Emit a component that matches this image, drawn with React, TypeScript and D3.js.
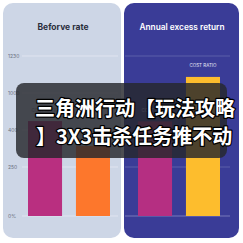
import React from "react";
import * as d3 from "d3";

const tickValues = [0, 250, 400, 1000, 1230];
const tickLabels = ["0%", "250", "400", "1000", "1230"];
const leftCategories = ["Before", "After"];
const leftValues = [545, 335];
const rightCategories = ["Fund", "Cost"];
const rightValues = [540, 1100];
const leftTitle = "Beforve rate";
const rightTitle = "Annual excess return";
const barLabel = "COST RATIO";
const overlayLines = ["三角洲行动【玩法攻略", "】3X3击杀任务推不动"];

export default function App() {
  const y = d3.scaleLinear().domain(tickValues).range([216, 167, 130, 93, 56]);
  const xl = d3.scaleBand().domain(leftCategories).range([28, 110]).paddingInner(0.29).paddingOuter(0);
  const xr = d3.scaleBand().domain(rightCategories).range([138, 220]).paddingInner(0.29).paddingOuter(0);
  const leftColors = ["#b92f80", "#fd772c"];
  const rightColors = ["#b52f82", "#fdbd2d"];
  return (
    <svg width={243} height={243} style={{ position: "absolute", left: 0, top: 0 }} fontFamily="Inter, 'Noto Sans', sans-serif">
      <rect x={0} y={0} width={243} height={243} fill="#ffffff" />
      <rect x={3} y={3} width={118} height={235} rx={10} fill="#cdd6e6" />
      <rect x={124} y={3} width={115} height={235} rx={10} fill="#3a3c97" />
      <text x={63} y={30} textAnchor="middle" fontSize={8.5} fontWeight={700} fill="#2a2e3c">{leftTitle}</text>
      <text x={182} y={30} textAnchor="middle" fontSize={8.3} fontWeight={600} fill="#ffffff">{rightTitle}</text>
      {tickValues.map((v, i) => (
        <g key={"lt" + i}>
          <line x1={22} x2={118} y1={y(v)} y2={y(v)} stroke="#e4e9f2" strokeWidth={0.8} />
          <text x={8} y={y(v) + 1.8} fontSize={5} fill="#6a7080">{tickLabels[i]}</text>
        </g>
      ))}
      {[1230, 250, 0].map((v, i) => (
        <line key={"rg" + i} x1={125} x2={230} y1={y(v)} y2={y(v)} stroke="#8f93c8" strokeOpacity={v === 0 ? 0.9 : 0.5} strokeWidth={0.8} />
      ))}
      {leftCategories.map((c, i) => (
        <rect key={"lb" + i} x={xl(c)} y={y(leftValues[i])} width={xl.bandwidth()} height={y(0) - y(leftValues[i])} fill={leftColors[i]} />
      ))}
      {rightCategories.map((c, i) => (
        <rect key={"rb" + i} x={xr(c)} y={y(rightValues[i])} width={xr.bandwidth()} height={y(0) - y(rightValues[i])} fill={rightColors[i]} />
      ))}
      <text x={(xl(leftCategories[0]) as number) + xl.bandwidth() / 2} y={y(leftValues[0]) - 9} textAnchor="middle" fontSize={4.5} fill="#7a8090">{barLabel}</text>
      <text x={(xr(rightCategories[0]) as number) + xr.bandwidth() / 2} y={y(rightValues[0]) - 9} textAnchor="middle" fontSize={4.5} fill="#d0d2ee">{barLabel}</text>
      <text x={(xr(rightCategories[1]) as number) + xr.bandwidth() / 2} y={y(rightValues[1]) - 10} textAnchor="middle" fontSize={4.5} fill="#e6e7f6">{barLabel}</text>
      <rect x={16} y={83} width={211} height={75} rx={8} fill="#26272c" fillOpacity={0.82} />
      <g fontFamily="'Noto Sans CJK SC', sans-serif" fontWeight={700} fontSize={20} fill="#ffffff" stroke="#000000" strokeWidth={2.5} strokeLinejoin="round" style={{ paintOrder: "stroke" }}>
        <text x={35} y={116}>{overlayLines[0]}</text>
        <text x={36} y={144}>{overlayLines[1]}</text>
      </g>
    </svg>
  );
}
